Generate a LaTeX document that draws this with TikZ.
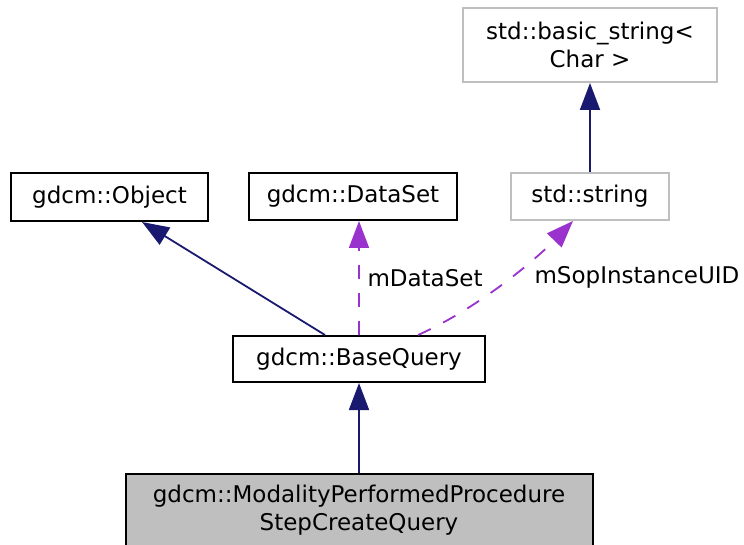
\documentclass[tikz,border=0pt]{standalone}
\usepackage{fontspec}
\setmainfont{DejaVu Sans}
\usetikzlibrary{arrows.meta,calc}
\definecolor{edgeblue}{HTML}{191970}
\definecolor{edgepurple}{HTML}{9A32CD}
\definecolor{boxgrey}{HTML}{BFBFBF}
\begin{document}
\begin{tikzpicture}[x=0.5pt,y=-0.5pt,line join=miter,>={Triangle[length=13.5pt,width=10pt]},
		font=\fontsize{11.5}{14}\selectfont]
	\tikzset{cls/.style={draw=black,line width=1pt,align=center,inner sep=0pt},
		extcls/.style={cls,draw=boxgrey},
		inh/.style={->,edgeblue,line width=0.9pt},
		usage/.style={->,edgepurple,line width=0.9pt,dash pattern=on 7pt off 7pt},
		lbl/.style={text=black,inner sep=3.8pt}}
	\useasboundingbox (0,0) rectangle (744,545);
	% classes
	\node[extcls,minimum width=127pt,minimum height=37pt] (bs) at (590,45) {std::basic\_string<\\Char >};
	\node[extcls,minimum width=79pt,minimum height=23.5pt] (st) at (590,196.5) {std::string};
	\node[cls,minimum width=98.5pt,minimum height=24pt] (obj) at (109.5,197) {gdcm::Object};
	\node[cls,minimum width=104pt,minimum height=23.5pt] (ds) at (353,196.5) {gdcm::DataSet};
	\node[cls,minimum width=126pt,minimum height=23pt] (bq) at (359,359) {gdcm::BaseQuery};
	\node[cls,fill=boxgrey,minimum width=233.5pt,minimum height=37pt] (mp) at (359,510.5)
		{gdcm::ModalityPerformedProcedure\\StepCreateQuery};
	% inheritance
	\draw[inh] (mp.north) -- (bq.south);
	\draw[inh] (st.north) -- (bs.south);
	\draw[inh] ($(bq.north)+(-34,0)$) -- ($(obj.south)+(32.5,0)$);
	% members
	\draw[usage] (bq.north) -- node[lbl,right] (lds) {mDataSet} (bq.north |- ds.south);
	\draw[usage] ($(bq.north)+(59,0)$) .. controls +(24:34pt) and +(226:26pt) .. ($(st.south)+(-17,0)$);
	\node[lbl] (lsop) at (637,277) {mSopInstanceUID};
\end{tikzpicture}
\end{document}
